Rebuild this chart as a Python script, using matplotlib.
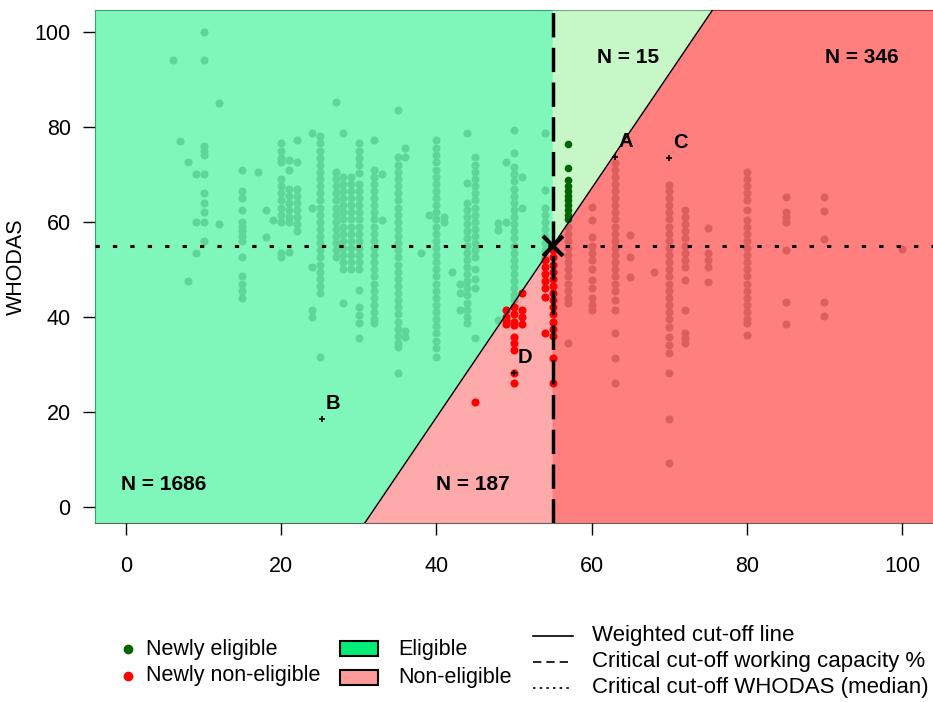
import matplotlib
matplotlib.use("Agg")
import matplotlib.pyplot as plt
from matplotlib.patches import Rectangle
from matplotlib.lines import Line2D

plt.rcParams['font.family'] = ['Liberation Sans', 'DejaVu Sans']

# working capacity % (x) -> WHODAS scores (y), unchanged eligibility
bg_columns = [
    (6, [94]),
    (7, [77]),
    (8, [72.6, 47.5]),
    (9, [70, 60, 53.5]),
    (10, [100, 94, 76, 75, 74, 70, 66, 64, 62, 60, 56]),
    (12, [85, 59.5]),
    (15, [71, 66.5, 65, 62.5, 60, 59, 58, 57, 56, 52.5, 48.5, 47, 45.5, 44]),
    (17, [70.5]),
    (18, [62.5, 56.8]),
    (19, [60.4]),
    (20, [76.5, 75, 73.5, 72.5, 69, 67.5, 66, 64.5, 63, 61.5, 60, 53.5, 52.5]),
    (21, [73, 71, 67, 65.5, 64, 62.5, 61, 60, 53.7]),
    (22, [77.3, 72.6, 67, 65.5, 64, 62.5, 61, 59.5, 58]),
    (24, [78.7, 63, 50.5, 41.5, 40]),
    (25, [78, 76.5, 75, 73.5, 72, 70.5, 69, 67.5, 66, 64.5, 63, 61.5, 60, 58.5,
          57, 55.5, 54, 52.5, 51, 49.5, 48, 46.5, 45, 31.5]),
    (27, [85.3, 70.5, 69, 67.5, 66, 64.5, 63, 61.5, 60, 58.5, 57, 55.5, 54, 52.5]),
    (28, [78.7, 69.5, 68, 66.5, 65, 63.5, 62, 60.5, 59, 57.5, 56, 54.5, 53, 51.5, 50, 43]),
    (29, [69.5, 68, 66.5, 65, 63.5, 62, 60.5, 59, 57.5, 56, 54.5, 53, 51.5, 50]),
    (30, [76.6, 75, 73.5, 72, 70.3, 68, 66.5, 65, 63.5, 62, 60.5, 59, 57.5, 56,
          54.5, 53, 51.5, 50, 45.7, 42, 40.3, 38.7, 35.6]),
    (32, [77.3, 71, 69.5, 68, 66.5, 65, 63.5, 62, 60.5, 59, 57.5, 56, 54.5, 53,
          51.5, 50, 48.5, 47, 45.5, 44, 42.5, 41, 39.5, 38.7]),
    (33, [70, 60.4]),
    (35, [83.6, 73.7, 72, 70.5, 69, 67.5, 66, 64.5, 63, 61.5, 60, 58.5, 57, 55.5,
          54, 52.5, 51, 49.5, 48, 46.5, 45, 43.5, 42, 40.5, 39, 37.5, 36, 34.5,
          33.7, 28.2]),
    (36, [75.6, 73.7, 37, 35.8]),
    (38, [53.5]),
    (39, [61.5]),
    (40, [77.3, 75.5, 74, 72.5, 71, 69.5, 68, 66.5, 65, 63.5, 62, 60.5, 59, 57.5,
          56, 54.5, 53, 51.5, 50, 48.5, 47, 45.5, 44, 42.5, 41, 39.5, 38, 36.5,
          35, 33.5, 31.6]),
    (41, [61, 60]),
    (42, [49.5]),
    (43, [47, 45, 41.5]),
    (44, [78.7, 68.2, 64, 62.5, 61, 59.5, 58, 56.5, 55, 53.5, 52, 50.5, 49, 47.5,
          46, 44.5, 43, 41.5, 40, 38.7]),
    (45, [73.7, 72, 70.5, 69, 67.5, 66, 64.5, 63, 61.5, 60, 58.5, 57, 55.5, 54,
          52.6, 50, 48, 46, 35.6]),
    (48, [59.8, 58.3, 39.4]),
    (49, [72.6, 60]),
    (50, [79.4, 74.5, 71.6, 70, 68.5, 67, 65.5, 64, 62.5, 61, 59.5, 58, 56.5, 55,
          53.5, 52, 50.5, 49, 47.5, 46, 44.5, 43.5]),
    (51, [69.5, 63]),
    (54, [78.7, 66.7, 63, 61.5, 60, 58.5, 57, 55.5, 54, 52.6]),
    (57, [59, 57.5, 56, 54.5, 53, 51.5, 50, 48.5, 47, 45.5, 44, 43, 34.5]),
    (60, [63.2, 60.4, 56.8, 55, 53.5, 52, 50, 47.8, 46, 44, 42.5, 41.5]),
    (63, [72.4, 71, 69.5, 68, 66.5, 65, 63.5, 62, 60.5, 59, 57.5, 56, 54.5, 53,
          51.5, 50, 48.5, 47, 45.5, 43.6, 41.5, 36.6, 31.4, 26.1]),
    (65, [57.3, 52.6, 48.4]),
    (68, [49.5]),
    (70, [67.8, 66.5, 65, 63.5, 62, 60.5, 59, 57.5, 56, 54.5, 53, 51.5, 50, 48.5,
          47, 45.5, 44, 42.5, 41, 39.5, 37.9, 35.8, 34, 32.4, 28.2, 18.5, 9.3]),
    (72, [62.5, 61, 59.5, 58, 56.5, 55, 53.5, 52, 50.5, 47.8, 41.5, 36.6, 35.5, 34.5]),
    (75, [58.7, 53.5, 52, 50.5, 47.4]),
    (80, [70.5, 69, 67.5, 66, 64.5, 62.5, 60.4, 59, 57.5, 56, 54.5, 53, 51.5, 50,
          48.5, 47, 45.5, 44, 42.5, 41, 39.5, 38.7, 36.2]),
    (85, [65.3, 62, 61, 60, 54, 43.2, 38.5]),
    (90, [65.3, 62.3, 56.4, 43.2, 40.2]),
    (100, [54.3]),
]

# newly non-eligible (red) and newly eligible (dark green)
red_columns = [
    (45, [22.1]),
    (49, [41.5, 40, 39.4, 38.5]),
    (50, [42, 40.5, 39, 38.3, 35.8, 34.5, 33, 28.2, 26]),
    (51, [45, 41.5, 40, 38.5]),
    (54, [52, 50.5, 49, 47.5, 46, 44.2, 36.6]),
    (55, [54, 52.5, 51, 49.5, 48, 46.5, 45, 43.5, 42, 40.5, 39, 37.5, 36, 31.4, 26]),
]
green_columns = [
    (57, [76.4, 71.4, 68.8, 67.5, 66.5, 65.5, 64.5, 63.5, 62.5, 61.5, 60.5]),
]

# example cases
case_labels = ['A', 'B', 'C', 'D']
case_x = [63, 25.2, 70, 50]
case_y = [73.7, 18.5, 73.5, 28.2]

# region counts
n_labels = ['N = 1686', 'N = 187', 'N = 15', 'N = 346']
n_x = [4.9, 44.7, 64.7, 94.8]
n_y = [4.8, 4.8, 94.6, 94.6]

cut_x = 55        # critical cut-off working capacity %
cut_y = 55        # median WHODAS
slope = 2.41      # weighted cut-off line

xticks = [0, 20, 40, 60, 80, 100]
yticks = [0, 20, 40, 60, 80, 100]


def flatten(cols):
    xs, ys = [], []
    for x, yl in cols:
        for y in yl:
            xs.append(x)
            ys.append(y)
    return xs, ys


fig = plt.figure(figsize=(9.33, 7.02), dpi=100)
ax = fig.add_axes([95 / 933, 1 - 523 / 702, 838 / 933, 513 / 702])
x_lo, x_hi = -4, 104
y_lo, y_hi = -3.4, 104.6
ax.set_xlim(x_lo, x_hi)
ax.set_ylim(y_lo, y_hi)

# grey points first, regions blended over them
gx, gy = flatten(bg_columns)
ax.scatter(gx, gy, s=34, color='#BEBEBE', linewidths=0, zorder=1)

xb = cut_x + (y_lo - cut_y) / slope
xt = cut_x + (y_hi - cut_y) / slope
ax.fill([x_lo, xb, cut_x, cut_x, x_lo], [y_lo, y_lo, cut_y, y_hi, y_hi],
        color='#00EE76', alpha=0.5, lw=0, zorder=2)
ax.fill([xb, cut_x, cut_x], [y_lo, y_lo, cut_y],
        color='#FF0000', alpha=1 / 3, lw=0, zorder=2)
ax.fill([cut_x, xt, cut_x], [cut_y, y_hi, y_hi],
        color='#91EF91', alpha=0.5, lw=0, zorder=2)
ax.fill([cut_x, x_hi, x_hi, xt, cut_x], [y_lo, y_lo, y_hi, y_hi, cut_y],
        color='#FF0000', alpha=0.5, lw=0, zorder=2)

rx, ry = flatten(red_columns)
ax.scatter(rx, ry, s=34, color='#FF0000', linewidths=0, zorder=3)
ex, ey = flatten(green_columns)
ax.scatter(ex, ey, s=30, color='#006400', linewidths=0, zorder=3)

ax.axline((cut_x, cut_y), slope=slope, color='black', lw=1, zorder=4)
ax.axvline(cut_x, color='black', lw=2.5, dashes=(7, 3), zorder=4)
ax.axhline(cut_y, color='black', lw=2.2, dashes=(1.4, 4.3), zorder=4)
ax.plot([cut_x], [cut_y], marker='x', ms=15, mew=3, color='black', zorder=5)

ax.plot(case_x, case_y, ls='none', marker='+', ms=4, mew=1.2, color='black', zorder=5)
for lab, x, y in zip(case_labels, case_x, case_y):
    ax.annotate(lab, (x, y), xytext=(8, 11), textcoords='offset points',
                ha='center', va='center', fontsize=14.5, fontweight='bold', zorder=6)

for lab, x, y in zip(n_labels, n_x, n_y):
    ax.text(x, y, lab, ha='center', va='center', fontsize=15, fontweight='bold', zorder=6)

ax.set_xticks(xticks)
ax.set_yticks(yticks)
ax.tick_params(length=8.5, width=1, labelsize=15.5)
ax.tick_params(axis='x', pad=15)
ax.tick_params(axis='y', pad=9)
for sp in ax.spines.values():
    sp.set_color('#606060')
    sp.set_zorder(1.5)
ax.set_ylabel('WHODAS', fontsize=15.5)
ax.yaxis.set_label_coords(-0.081, 0.5)

# legend below the plot, drawn in pixel coordinates
lax = fig.add_axes([0, 0, 1, 1])
lax.set_xlim(0, 933)
lax.set_ylim(702, 0)
lax.axis('off')
fs = 15.5
lax.plot([128], [649], 'o', ms=6, color='#006400')
lax.plot([128], [676], 'o', ms=6, color='#FF0000')
lax.text(146, 649, 'Newly eligible', fontsize=fs, va='center')
lax.text(146, 676, 'Newly non-eligible', fontsize=fs, va='center')
lax.add_patch(Rectangle((340, 641), 38, 15, facecolor='#00EE76', edgecolor='black', lw=1.5))
lax.add_patch(Rectangle((340, 670), 38, 15, facecolor='#FF9A9A', edgecolor='black', lw=1.5))
lax.text(398, 649, 'Eligible', fontsize=fs, va='center')
lax.text(398, 677, 'Non-eligible', fontsize=fs, va='center')
lax.add_line(Line2D([533, 573], [636, 636], color='black', lw=1.2))
lax.add_line(Line2D([533, 573], [662, 662], color='black', lw=1.2, dashes=(5, 3)))
lax.add_line(Line2D([533, 573], [688, 688], color='black', lw=1.2, dashes=(1.5, 2.5)))
lax.text(592, 636, 'Weighted cut-off line', fontsize=16, va='center')
lax.text(592, 662, 'Critical cut-off working capacity %', fontsize=16, va='center')
lax.text(592, 688, 'Critical cut-off WHODAS (median)', fontsize=16, va='center')

fig.savefig('out.png', dpi=100)
